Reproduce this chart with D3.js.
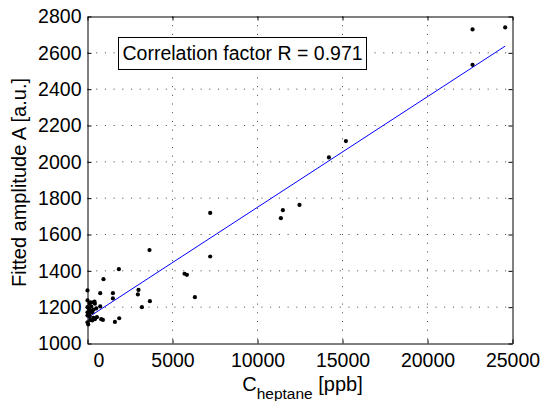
<!DOCTYPE html>
<html>
<head>
<meta charset="utf-8">
<script src="https://cdn.jsdelivr.net/npm/d3@7"></script>
<style>
  body { margin: 0; background: #fff; }
  text { font-family: "Liberation Sans", Arial, sans-serif; fill: #000; }
</style>
</head>
<body>
<div id="chart-container"></div>
<script>
// concentration [ppb] and fitted amplitude [a.u.]
const conc = [
  24570, 22650, 22650, 15200, 14200, 12470, 11493, 11375, 7218, 7218,
  5706, 5847, 6317, 3647, 3670, 3000, 2963, 3200, 1846, 941,
  1494, 1494, 747, 1865, 1612, 906, 806, 412, 747,
  0, 353, 435, 118, 0, 82, 159, 0, 118, 276,
  353, 512, 353, 276, 435, 0, 159, 553, 41, 129,
  0, 218, 0, 188
];
const amplitude = [
  2740, 2729, 2534, 2114, 2024, 1763, 1734, 1690, 1719, 1479,
  1384, 1378, 1255, 1514, 1233, 1295, 1270, 1200, 1409, 1354,
  1277, 1248, 1277, 1139, 1119, 1130, 1134, 1231, 1204,
  1292, 1227, 1219, 1219, 1200, 1191, 1182, 1172, 1163, 1172,
  1186, 1193, 1141, 1127, 1134, 1117, 1130, 1145, 1105, 1149,
  1154, 1204, 1237, 1226
];
// linear fit end points
const fitConc = [0, 24570];
const fitAmp = [1141, 2637];

const xTicks = [0, 5000, 10000, 15000, 20000, 25000];
const yTicks = [1000, 1200, 1400, 1600, 1800, 2000, 2200, 2400, 2600, 2800];
const legendText = "Correlation factor R = 0.971";

const margin = {top: 16, right: 29, bottom: 58, left: 87},
      width = 541 - margin.left - margin.right,
      height = 401 - margin.top - margin.bottom;

const svg = d3.select("#chart-container")
    .append("svg")
    .attr("width", 541)
    .attr("height", 401)
    .append("g")
    .attr("transform", "translate(" + (margin.left + 0.5) + "," + (margin.top + 0.5) + ")");

const x = d3.scaleLinear().domain([0, 25000]).range([0, width]);
const y = d3.scaleLinear().domain([1000, 2800]).range([height, 0]);

// dotted grid
svg.append("g")
    .selectAll("line")
    .data(xTicks.slice(1, -1))
    .enter()
    .append("line")
    .attr("x1", d => x(d)).attr("x2", d => x(d))
    .attr("y1", 0).attr("y2", height)
    .attr("stroke", "#444")
    .attr("stroke-dasharray", "1,7.7");

svg.append("g")
    .selectAll("line")
    .data(yTicks.slice(1, -1))
    .enter()
    .append("line")
    .attr("y1", d => y(d)).attr("y2", d => y(d))
    .attr("x1", 0).attr("x2", width)
    .attr("stroke", "#444")
    .attr("stroke-dasharray", "1,7.7");

// axes, ticks pointing inward
const fontSize = "19.5px";
const fmt = d3.format("d");

const xAxis = svg.append("g")
    .attr("transform", `translate(0, ${height})`)
    .call(d3.axisBottom(x).tickValues(xTicks).tickFormat(fmt)
        .tickSizeInner(-4).tickSizeOuter(0).tickPadding(10));

xAxis.selectAll("text")
    .style("font-size", fontSize)
    .style("font-family", "'Liberation Sans', Arial, sans-serif")
    .attr("fill", "#000")
    .attr("x", d => d === 0 ? 11 : 0);

const yAxis = svg.append("g")
    .call(d3.axisLeft(y).tickValues(yTicks).tickFormat(fmt)
        .tickSizeInner(-4).tickSizeOuter(0).tickPadding(6));

yAxis.selectAll("text")
    .style("font-size", fontSize)
    .style("font-family", "'Liberation Sans', Arial, sans-serif")
    .attr("fill", "#000");

svg.append("g")
    .call(d3.axisTop(x).tickValues(xTicks).tickSizeInner(-4).tickSizeOuter(0).tickFormat(""));

svg.append("g")
    .attr("transform", `translate(${width}, 0)`)
    .call(d3.axisRight(y).tickValues(yTicks).tickSizeInner(-4).tickSizeOuter(0).tickFormat(""));

svg.selectAll(".domain").attr("stroke", "#000").attr("stroke-width", 1);
svg.selectAll(".tick line").attr("stroke", "#000");

// fit line
svg.append("path")
    .datum(d3.zip(fitConc, fitAmp))
    .attr("d", d3.line().x(d => x(d[0])).y(d => y(d[1])))
    .attr("fill", "none")
    .attr("stroke", "#0000ff")
    .attr("stroke-width", 1);

// measured points
svg.append("g")
    .selectAll("circle")
    .data(d3.zip(conc, amplitude))
    .enter()
    .append("circle")
    .attr("cx", d => x(d[0]))
    .attr("cy", d => y(d[1]))
    .attr("r", 2.1)
    .style("fill", "#000");

// legend box
svg.append("rect")
    .attr("x", 118 - margin.left)
    .attr("y", 37 - margin.top)
    .attr("width", 248)
    .attr("height", 32)
    .attr("fill", "#fff")
    .attr("stroke", "#000");

svg.append("text")
    .attr("x", 122 - margin.left)
    .attr("y", 59.5 - margin.top)
    .style("font-size", fontSize)
    .text(legendText);

// axis titles
svg.append("text")
    .attr("transform", `translate(${25.5 - margin.left}, ${182 - margin.top}) rotate(-90)`)
    .attr("text-anchor", "middle")
    .style("font-size", "20px")
    .text("Fitted amplitude A [a.u.]");

const xLabel = svg.append("text")
    .attr("text-anchor", "middle")
    .attr("x", 302 - margin.left)
    .attr("y", 390 - margin.top)
    .style("font-size", "20px");
xLabel.append("tspan").text("C");
xLabel.append("tspan").attr("dy", 8).style("font-size", "15.5px").text("heptane");
xLabel.append("tspan").attr("dy", -8).text(" [ppb]");
</script>
</body>
</html>
